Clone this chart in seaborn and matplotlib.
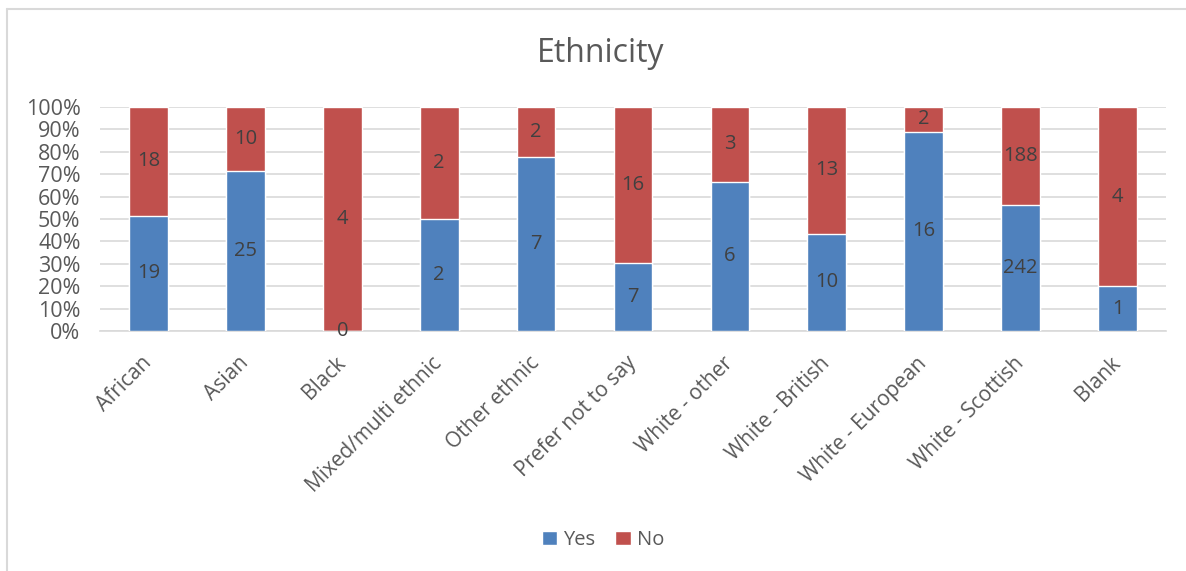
import numpy as np
import pandas as pd
import matplotlib
matplotlib.use("Agg")
import matplotlib.pyplot as plt
from matplotlib.patches import Patch
from matplotlib.lines import Line2D
from matplotlib.ticker import PercentFormatter, MultipleLocator
import seaborn as sns

categories = ["African", "Asian", "Black", "Mixed/multi ethnic", "Other ethnic",
              "Prefer not to say", "White - other", "White - British",
              "White - European", "White - Scottish", "Blank"]
yes_counts = [19, 25, 0, 2, 7, 7, 6, 10, 16, 242, 1]
no_counts = [18, 10, 4, 2, 2, 16, 3, 13, 2, 188, 4]

BLUE = "#4F81BD"
RED = "#C0504D"
TEXT = "#595959"
LABEL = "#404040"
GRID = "#D9D9D9"

sns.set_theme(style="white")
plt.rcParams["font.family"] = ["Open Sans", "DejaVu Sans"]

df = pd.DataFrame({"cat": categories, "yes": yes_counts, "no": no_counts})
df["total"] = df["yes"] + df["no"]
df["yes_share"] = df["yes"] / df["total"]
df["no_share"] = df["no"] / df["total"]
df["stack_top"] = df["yes_share"] + df["no_share"]

fig = plt.figure(figsize=(11.86, 5.71), dpi=100)
ax = fig.add_axes([100 / 1186, 1 - 331 / 571, 1066 / 1186, 224 / 571])

# stacked 100% bars: "No" drawn to the full stack height, "Yes" over its lower part
sns.barplot(data=df, x="cat", y="stack_top", color=RED, saturation=1,
            width=0.4, ax=ax, zorder=3, order=categories)
sns.barplot(data=df, x="cat", y="yes_share", color=BLUE, saturation=1,
            width=0.4, ax=ax, zorder=4, order=categories)

for i, row in df.iterrows():
    ax.text(i, row["yes_share"] / 2, f"{row['yes']}", ha="center", va="center",
            fontsize=14.5, color=LABEL, zorder=5)
    ax.text(i, row["yes_share"] + row["no_share"] / 2, f"{row['no']}",
            ha="center", va="center", fontsize=14.5, color=LABEL, zorder=5)

ax.set_ylim(0, 1)
ax.set_xlim(-0.5, len(categories) - 0.5)
ax.yaxis.set_major_locator(MultipleLocator(0.1))
ax.yaxis.set_major_formatter(PercentFormatter(1.0, decimals=0))
ax.grid(axis="y", color=GRID, linewidth=1.2, zorder=0)
ax.set_axisbelow(True)
for s in ["top", "right", "left"]:
    ax.spines[s].set_visible(False)
ax.spines["bottom"].set_color(GRID)
ax.spines["bottom"].set_linewidth(1.2)
ax.set_xlabel("")
ax.set_ylabel("")
ax.tick_params(axis="y", labelsize=15.5, labelcolor=TEXT, length=0, pad=14)
ax.tick_params(axis="x", labelsize=15, labelcolor=TEXT, length=0, pad=21)
plt.setp(ax.get_xticklabels(), rotation=45, ha="right", va="center",
         rotation_mode="anchor")
for lbl in ax.get_xticklabels():
    lbl.set_x(lbl.get_position()[0])
for lbl in ax.get_yticklabels():
    lbl.set_horizontalalignment("right")

fig.text(601 / 1186, 1 - 53 / 571, "Ethnicity", ha="center", va="center",
         fontsize=23, color=TEXT)

handles = [Patch(facecolor=BLUE, label="Yes"), Patch(facecolor=RED, label="No")]
fig.legend(handles=handles, loc="center", bbox_to_anchor=(603 / 1186, 1 - 540 / 571),
           ncol=2, frameon=False, fontsize=14.5, labelcolor=TEXT,
           handlelength=0.75, handleheight=0.75, handletextpad=0.3, columnspacing=1.0)

# chart frame along the top and left edges
fig.add_artist(Line2D([7 / 1186, 1.0], [1 - 8.5 / 571] * 2, color="#D9D9D9", linewidth=1.5))
fig.add_artist(Line2D([7 / 1186] * 2, [0, 1 - 8.5 / 571], color="#D9D9D9", linewidth=1.5))

fig.savefig("out.png", dpi=100)
